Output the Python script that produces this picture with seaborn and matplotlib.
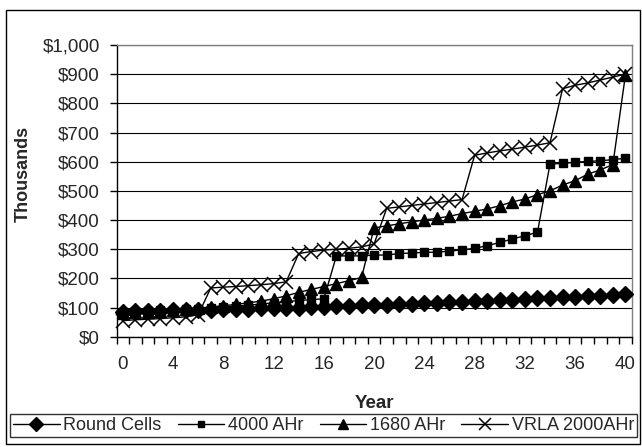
import matplotlib
matplotlib.use("Agg")
import matplotlib.pyplot as plt
import matplotlib.ticker as mticker
from matplotlib.patches import Rectangle
import seaborn as sns
import pandas as pd

years = list(range(41))
round_cells = [86, 87, 88, 89, 90, 91, 92, 93, 94, 95, 96, 97, 98, 99, 100, 101, 102,
               104, 105, 107, 108, 110, 111, 113, 114, 116, 118, 119, 121, 123, 125,
               127, 129, 131, 133, 135, 137, 139, 141, 143, 145]
ahr4000 = [84, 86, 88, 90, 92, 94, 96, 99, 102, 105, 108, 112, 116, 120, 124, 127, 130,
           277, 277, 277, 280, 280, 285, 287, 289, 290, 293, 298, 303, 312, 323, 335,
           346, 358, 592, 594, 598, 601, 603, 607, 612]
ahr1680 = [80, 83, 86, 88, 91, 94, 98, 102, 106, 111, 116, 122, 130, 140, 152, 162, 172,
           182, 192, 203, 373, 380, 387, 394, 400, 406, 413, 422, 430, 438, 449, 462,
           472, 487, 500, 520, 535, 557, 572, 590, 897]
vrla = [55, 58, 60, 62, 65, 68, 75, 167, 170, 172, 175, 178, 182, 188, 285, 292, 297,
        300, 303, 308, 318, 440, 445, 450, 455, 460, 465, 470, 622, 630, 637, 643, 650,
        657, 665, 850, 862, 870, 880, 890, 900]
series_names = ["Round Cells", "4000 AHr", "1680 AHr", "VRLA 2000AHr"]
y_ticks = list(range(0, 1001, 100))
x_label_ticks = list(range(0, 41, 4))

sns.set_style("ticks")
plt.rcParams["font.family"] = ["Liberation Sans", "DejaVu Sans"]

W, H = 642, 447
fig = plt.figure(figsize=(W / 100, H / 100), dpi=100)
L, R, T, B = 116.5, 631.7, 45.0, 336.7
ax = fig.add_axes([L / W, 1 - B / H, (R - L) / W, (B - T) / H])

styles = [
    dict(marker="D", markersize=8.5, mew=1),
    dict(marker="s", markersize=5.5, mew=1),
    dict(marker="^", markersize=8, mew=1),
    dict(marker="x", markersize=10, mew=1.1),
]
all_vals = [round_cells, ahr4000, ahr1680, vrla]
for name, vals, st in zip(series_names, all_vals, styles):
    df = pd.DataFrame({"Year": years, "Value": vals})
    sns.lineplot(data=df, x="Year", y="Value", ax=ax, color="black", lw=1,
                 mfc="black", mec="black", label=name, zorder=3, clip_on=False, **st)

ax.set_xlim(-0.5, 40.5)
ax.set_ylim(0, 1000)
ax.set_yticks(y_ticks)
ax.yaxis.set_major_formatter(mticker.FuncFormatter(lambda v, p: f"${v:,.0f}"))
ax.set_xticks(x_label_ticks)
ax.set_xticks([i - 0.5 for i in range(42)], minor=True)
ax.tick_params(axis="x", which="major", length=0, pad=14, labelsize=13.5)
ax.tick_params(axis="x", which="minor", length=5, width=1, direction="out", color="black")
ax.tick_params(axis="y", which="major", length=5, width=1, direction="out", pad=7,
               labelsize=13.5, color="black")

ax.grid(axis="y", color="black", lw=0.8)
ax.grid(axis="x", visible=False)
for s in ["left", "bottom"]:
    ax.spines[s].set_color("black")
    ax.spines[s].set_linewidth(1)
for s in ["top", "right"]:
    ax.spines[s].set_color("#808080")
    ax.spines[s].set_linewidth(1)

ax.set_ylabel("Thousands", fontsize=13, fontweight="bold", ha="center", va="center")
ax.yaxis.set_label_coords((23 - L) / (R - L), (B - 174) / (B - T))
ax.set_xlabel("Year", fontsize=13.5, fontweight="bold", ha="center", va="center")
ax.xaxis.set_label_coords(0.5, (B - 404) / (B - T))

ax.get_legend().remove()
handles, labels = ax.get_legend_handles_labels()
leg = fig.legend(handles, labels, loc="center", ncol=4, mode="expand",
                 bbox_to_anchor=(10 / W, 1 - 437 / H, 627 / W, 23 / H),
                 frameon=True, fancybox=False, edgecolor="black", fontsize=13,
                 handlelength=2.6, handletextpad=0.2, columnspacing=0.3,
                 borderpad=0.15, borderaxespad=0, markerscale=0.85)
leg.get_frame().set_linewidth(1)

fig.patches.append(Rectangle((6 / W, 3 / H), 634 / W, 434 / H, transform=fig.transFigure,
                             fill=False, edgecolor="black", lw=1))

fig.savefig("out.png", dpi=100)
